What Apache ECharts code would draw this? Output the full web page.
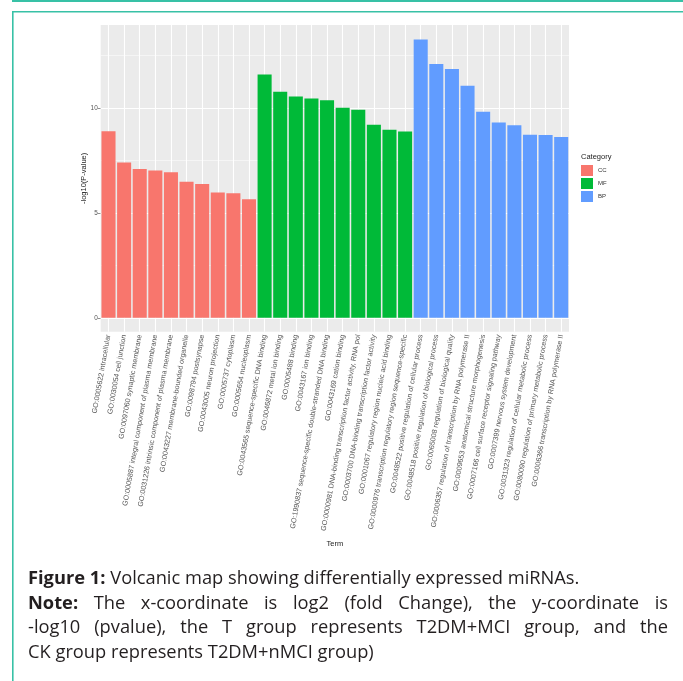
<!DOCTYPE html>
<html>
<head>
<meta charset="utf-8">
<script src="https://cdn.jsdelivr.net/npm/echarts@6/dist/echarts.min.js"></script>
<style>
html, body { margin: 0; padding: 0; background: #fff; }
#main { position: absolute; left: 0; top: 0; width: 683px; height: 681px; }
#caption {
    position: absolute; left: 28px; top: 565px; width: 640px;
    font-family: "Open Sans", sans-serif; font-size: 18.3px; line-height: 24.7px; color: #231f20;
}
#caption .just { text-align: justify; text-align-last: justify; }
</style>
</head>
<body>
<div id="main"></div>
<div id="caption">
    <div><b>Figure 1:</b> Volcanic map showing differentially expressed miRNAs.</div>
    <div class="just"><b>Note:</b> The x-coordinate is log2 (fold Change), the y-coordinate is</div>
    <div class="just">-log10 (pvalue), the T group represents T2DM+MCI group, and the</div>
    <div>CK group represents T2DM+nMCI group)</div>
</div>
<script>
// GO terms per category, in plotted order
const ccTerms = [
    'GO:0005622 intracellular',
    'GO:0030054 cell junction',
    'GO:0097060 synaptic membrane',
    'GO:0005887 integral component of plasma membrane',
    'GO:0031226 intrinsic component of plasma membrane',
    'GO:0043227 membrane-bounded organelle',
    'GO:0098794 postsynapse',
    'GO:0043005 neuron projection',
    'GO:0005737 cytoplasm',
    'GO:0005654 nucleoplasm'
];
const mfTerms = [
    'GO:0043565 sequence-specific DNA binding',
    'GO:0046872 metal ion binding',
    'GO:0005488 binding',
    'GO:0043167 ion binding',
    'GO:1990837 sequence-specific double-stranded DNA binding',
    'GO:0043169 cation binding',
    'GO:0000981 DNA-binding transcription factor activity, RNA pol',
    'GO:0003700 DNA-binding transcription factor activity',
    'GO:0001067 regulatory region nucleic acid binding',
    'GO:0000976 transcription regulatory region sequence-specific'
];
const bpTerms = [
    'GO:0048522 positive regulation of cellular process',
    'GO:0048518 positive regulation of biological process',
    'GO:0065008 regulation of biological quality',
    'GO:0006357 regulation of transcription by RNA polymerase II',
    'GO:0009653 anatomical structure morphogenesis',
    'GO:0007166 cell surface receptor signaling pathway',
    'GO:0007399 nervous system development',
    'GO:0031323 regulation of cellular metabolic process',
    'GO:0080090 regulation of primary metabolic process',
    'GO:0006366 transcription by RNA polymerase II'
];

// -log10(P-value)
const ccValues = [8.9, 7.41, 7.1, 7.03, 6.94, 6.49, 6.38, 5.97, 5.94, 5.65];
const mfValues = [11.6, 10.78, 10.56, 10.46, 10.37, 10.02, 9.92, 9.21, 8.97, 8.88];
const bpValues = [13.27, 12.1, 11.87, 11.07, 9.83, 9.32, 9.18, 8.73, 8.72, 8.62];

const categories = ['CC', 'MF', 'BP'];
const colors = ['#F8766D', '#00BA38', '#619CFF'];
const yTicks = [0, 5, 10];
const yMinorTicks = [2.5, 7.5, 12.5];

const terms = ccTerms.concat(mfTerms, bpTerms);
const groups = [ccValues, mfValues, bpValues];

const chart = echarts.init(document.getElementById('main'));

// place each group's values in its own slots, '-' elsewhere
const barSeries = groups.map((vals, g) => {
    const offset = groups.slice(0, g).reduce((s, a) => s + a.length, 0);
    const data = terms.map((t, i) => (i >= offset && i < offset + vals.length) ? vals[i - offset] : '-');
    return {
        name: categories[g],
        type: 'bar',
        data: data,
        barWidth: '90%',
        barGap: '-100%',
        z: 10,
        itemStyle: { color: colors[g] }
    };
});

const gridLines = [];
yTicks.forEach(v => gridLines.push({ yAxis: v, lineStyle: { width: 1.1 } }));
yMinorTicks.forEach(v => gridLines.push({ yAxis: v, lineStyle: { width: 0.5 } }));
terms.forEach(t => gridLines.push({ xAxis: t, lineStyle: { width: 1.1 } }));

const axisTextColor = '#555555';

const option = {
    animation: false,
    backgroundColor: '#ffffff',
    textStyle: { fontFamily: 'Liberation Sans, Arial, sans-serif' },
    grid: {
        left: 100.7,
        top: 25,
        width: 468.3,
        height: 306.7,
        show: true,
        backgroundColor: '#EBEBEB',
        borderWidth: 0
    },
    legend: {
        data: categories,
        orient: 'vertical',
        left: 581,
        top: 165,
        itemWidth: 12,
        itemHeight: 11,
        itemGap: 2,
        icon: 'rect',
        padding: 0,
        textStyle: { fontSize: 6, color: '#333' }
    },
    graphic: [
        { type: 'rect', shape: { x: 12, y: 0, width: 671, height: 2 }, style: { fill: '#38c1a6' } },
        { type: 'rect', shape: { x: 12, y: 11, width: 671, height: 1.6 }, style: { fill: '#38c1a6' } },
        { type: 'rect', shape: { x: 12, y: 11, width: 1.6, height: 670 }, style: { fill: '#38c1a6' } },
        { type: 'text', left: 581, top: 153, style: { text: 'Category', fontSize: 7.5, fill: '#222', fontFamily: 'Liberation Sans, Arial, sans-serif' } }
    ],
    xAxis: {
        type: 'category',
        data: terms,
        name: 'Term',
        nameLocation: 'middle',
        nameGap: 208,
        nameTextStyle: { fontSize: 7.5, color: '#222' },
        axisLine: { show: false },
        axisTick: { show: true, alignWithLabel: true, length: 3, lineStyle: { color: '#444', width: 0.6 } },
        axisLabel: { interval: 0, rotate: 80, fontSize: 7.2, color: axisTextColor, margin: 3 },
        splitLine: { show: false }
    },
    yAxis: {
        type: 'value',
        min: -0.665,
        max: 13.965,
        name: '-log10(P-value)',
        nameLocation: 'middle',
        nameGap: 13,
        nameMoveOverlap: false,
        nameTextStyle: { fontSize: 7.5, color: '#222' },
        axisLine: { show: false },
        axisTick: { show: true, customValues: yTicks, length: 3, lineStyle: { color: '#444', width: 0.6 } },
        axisLabel: { customValues: yTicks, fontSize: 6.4, color: axisTextColor, margin: 3 },
        splitLine: { show: false }
    },
    series: barSeries.concat([{
        name: 'grid',
        type: 'line',
        data: [],
        z: 1,
        silent: true,
        markLine: {
            z: 1,
            silent: true,
            symbol: 'none',
            label: { show: false },
            lineStyle: { color: '#ffffff', type: 'solid' },
            data: gridLines
        }
    }])
};

chart.setOption(option);
</script>
</body>
</html>
